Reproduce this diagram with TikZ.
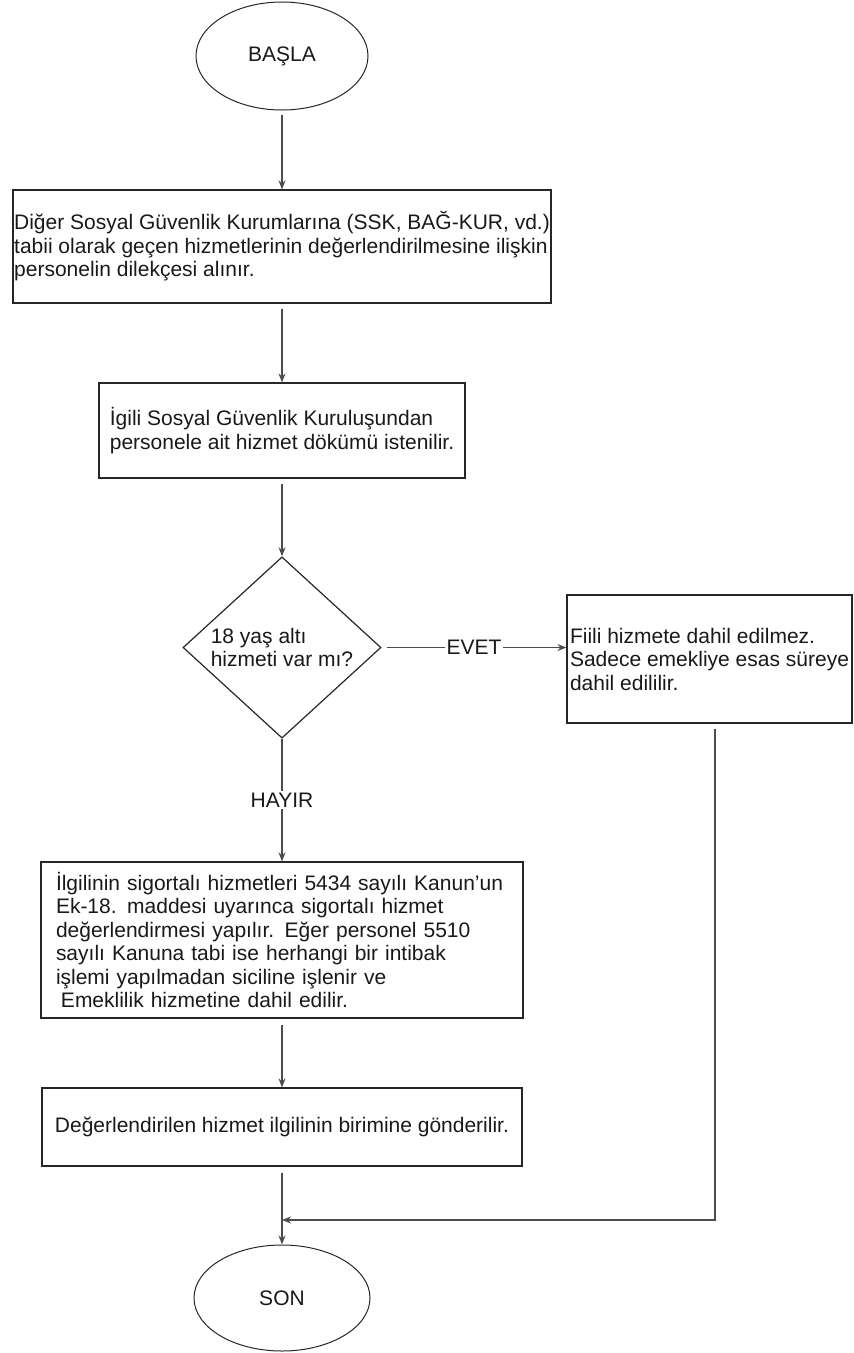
\documentclass[tikz,border=0pt]{standalone}
\usepackage{fontspec}
\setmainfont{Liberation Sans}
\usetikzlibrary{shapes.geometric, arrows.meta}

\begin{document}
\begin{tikzpicture}[
    x=1pt, y=-1pt,
    font=\fontsize{21}{23.5}\selectfont,
    kutu/.style={rectangle, draw=black!85, line width=1.2pt, align=left, inner sep=0pt, text=black!90},
    uc/.style={ellipse, draw=black!85, line width=1pt, minimum width=172pt, minimum height=108pt, inner sep=0pt, text=black!90},
    karar/.style={diamond, draw=black!85, line width=1.2pt, align=left, minimum width=198pt, minimum height=181pt, inner sep=0pt, text=black!90},
    arrow/.style={-{Stealth[length=9pt,width=7pt]}, line width=1.4pt, draw=black!70},
    etiket/.style={fill=white, inner sep=2pt, text=black!90}
]
\useasboundingbox (0,0) rectangle (854,1353);

% Baslangic
\node[uc] (basla) at (282,56) {BAŞLA};

% Adimlar
\node[kutu, minimum width=538pt, minimum height=113pt] (dilekce) at (282,246.5)
    {Diğer Sosyal Güvenlik Kurumlarına (SSK, BAĞ-KUR, vd.)\\tabii olarak geçen hizmetlerinin değerlendirilmesine ilişkin\\personelin dilekçesi alınır.};
\node[kutu, minimum width=366pt, minimum height=95pt] (dokum) at (282,430.5)
    {İgili Sosyal Güvenlik Kuruluşundan\\personele ait hizmet dökümü istenilir.};

% Karar
\node[karar] (soru) at (282,647.5) {18 yaş altı\\hizmeti var mı?};
\node[kutu, minimum width=285pt, minimum height=128pt] (fiili) at (709.5,659)
    {Fiili hizmete dahil edilmez.\\Sadece emekliye esas süreye\\dahil edililir.};

\node[kutu, text width=452pt, minimum width=482pt, minimum height=156pt] (intibak) at (282,940)
    {İlgilinin sigortalı hizmetleri 5434 sayılı Kanun'un\\Ek-18. maddesi uyarınca sigortalı hizmet\\değerlendirmesi yapılır. Eğer personel 5510\\sayılı Kanuna tabi ise herhangi bir intibak\\işlemi yapılmadan siciline işlenir ve\\\hspace*{5pt}Emeklilik hizmetine dahil edilir.};
\node[kutu, align=center, minimum width=480pt, minimum height=78pt] (gonder) at (282,1127)
    {Değerlendirilen hizmet ilgilinin birimine gönderilir.};

% Bitis
\node[uc, minimum width=176pt, minimum height=106pt] (son) at (282,1298) {SON};
\coordinate (birles) at (282,1220);

% Baglantilar
\draw[arrow, shorten <=4pt] (basla) -- (dilekce);
\draw[arrow, shorten <=5pt] (dilekce) -- (dokum);
\draw[arrow, shorten <=5pt] (dokum) -- (soru);
\draw[arrow, shorten <=5pt] (soru.east) -- node[etiket] {EVET} (soru.east -| fiili.west);
\draw[arrow] (soru) -- node[etiket] {HAYIR} (intibak);
\draw[arrow, shorten <=6pt] (intibak) -- (gonder);
\draw[arrow, shorten <=6pt] (gonder) -- (son);
\draw[arrow, shorten <=5pt] ([xshift=5.5pt]fiili.south) |- (birles);

\end{tikzpicture}
\end{document}
